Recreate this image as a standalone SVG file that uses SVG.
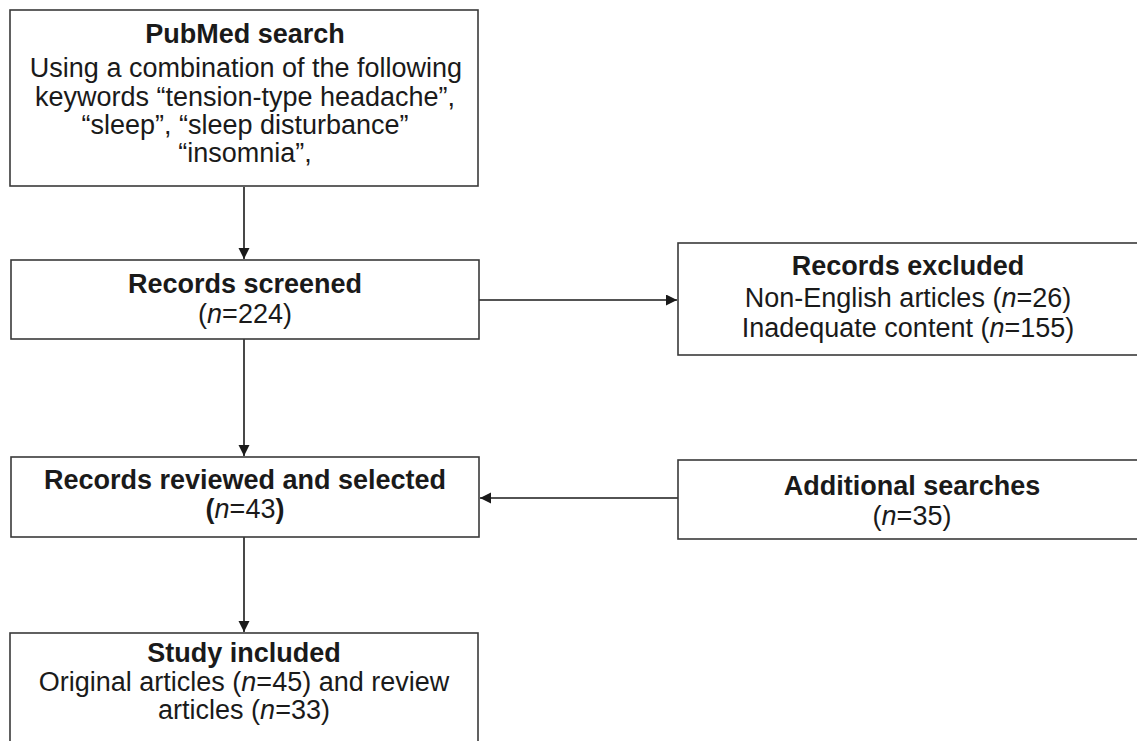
<svg xmlns="http://www.w3.org/2000/svg" width="1137" height="741" viewBox="0 0 1137 741">
<style>
.box{fill:#fff;stroke:#3a3a3a;stroke-width:1.6}
.t{font-family:"Liberation Sans",Arial,sans-serif;font-size:27px;fill:#1a1a1a;text-anchor:middle}
.b{font-weight:bold}
.c{stroke:#1a1a1a;stroke-width:1.6;fill:none}
</style>
<defs>
<marker id="ah" markerWidth="12" markerHeight="12" refX="11" refY="5.5" orient="auto" markerUnits="userSpaceOnUse">
<path d="M0,0 L11,5.5 L0,11 Z" fill="#1a1a1a"/>
</marker>
</defs>
<rect width="1137" height="741" fill="#fff"/>
<g id="connectors">
<line class="c" x1="244" y1="187" x2="244" y2="259" marker-end="url(#ah)"/>
<line class="c" x1="479" y1="300" x2="677" y2="300" marker-end="url(#ah)"/>
<line class="c" x1="244" y1="339" x2="244" y2="456" marker-end="url(#ah)"/>
<line class="c" x1="678" y1="498" x2="480" y2="498" marker-end="url(#ah)"/>
<line class="c" x1="244" y1="537" x2="244" y2="632" marker-end="url(#ah)"/>
</g>
<g id="pubmed">
<rect class="box" x="10" y="10" width="468" height="176"/>
<text class="t b" x="245" y="43">PubMed search</text>
<text class="t" x="246" y="77" font-size="27.5">Using a combination of the following</text>
<text class="t" x="245" y="106">keywords “tension-type headache”,</text>
<text class="t" x="245" y="134">“sleep”, “sleep disturbance”</text>
<text class="t" x="245" y="162">“insomnia”,</text>
</g>
<g id="screened">
<rect class="box" x="11" y="260" width="468" height="79"/>
<text class="t b" x="245" y="293">Records screened</text>
<text class="t" x="245" y="323">(<tspan font-style="italic">n</tspan>=224)</text>
</g>
<g id="excluded">
<rect class="box" x="678" y="243" width="464" height="112"/>
<text class="t b" x="908" y="275">Records excluded</text>
<text class="t" x="908" y="307">Non-English articles (<tspan font-style="italic">n</tspan>=26)</text>
<text class="t" x="908" y="337">Inadequate content (<tspan font-style="italic">n</tspan>=155)</text>
</g>
<g id="reviewed">
<rect class="box" x="11" y="457" width="468" height="80"/>
<text class="t b" x="245" y="489">Records reviewed and selected</text>
<text class="t" x="245" y="518"><tspan font-weight="bold">(</tspan><tspan font-style="italic">n</tspan>=43<tspan font-weight="bold">)</tspan></text>
</g>
<g id="additional">
<rect class="box" x="678" y="460" width="464" height="79"/>
<text class="t b" x="912" y="495">Additional searches</text>
<text class="t" x="912" y="525">(<tspan font-style="italic">n</tspan>=35)</text>
</g>
<g id="included">
<rect class="box" x="10" y="633" width="468" height="120"/>
<text class="t b" x="244" y="662">Study included</text>
<text class="t" x="244" y="691">Original articles (<tspan font-style="italic">n</tspan>=45) and review</text>
<text class="t" x="244" y="719">articles (<tspan font-style="italic">n</tspan>=33)</text>
</g>
</svg>
